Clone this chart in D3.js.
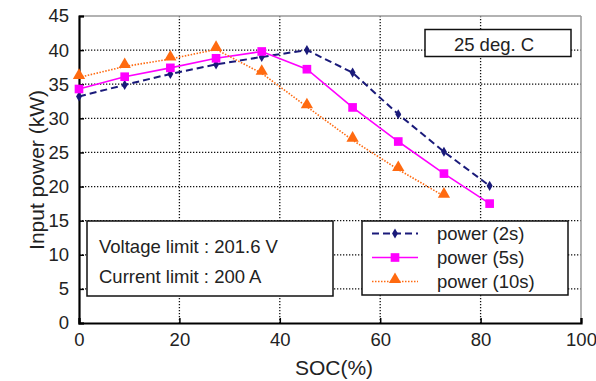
<!DOCTYPE html>
<html>
<head>
<meta charset="utf-8">
<script src="https://cdn.jsdelivr.net/npm/d3@7"></script>
<style>
  body { margin: 0; background: #fff; }
  text { font-family: "Liberation Sans", Arial, sans-serif; fill: #222; }
</style>
</head>
<body>
<script>

// chart data
var soc = [0, 9.1, 18.2, 27.3, 36.4, 45.4, 54.5, 63.6, 72.7, 81.8];
var power2s = [33.2, 34.9, 36.5, 37.9, 39.0, 40.0, 36.7, 30.6, 25.1, 20.1];
var power5s = [34.3, 36.1, 37.4, 38.8, 39.8, 37.2, 31.6, 26.6, 21.9, 17.5];
var power10s = [36.0, 37.6, 38.7, 40.1, 36.6, 31.7, 26.8, 22.5, 18.6];
var seriesNames = ["power (2s)", "power (5s)", "power (10s)"];
var xTicks = [0, 20, 40, 60, 80, 100];
var yTicks = [0, 5, 10, 15, 20, 25, 30, 35, 40, 45];
var noteLines = ["Voltage limit : 201.6 V", "Current limit : 200 A"];
var tempLabel = "25 deg. C";

window.onload = drawChart

function drawChart()
{
  var width = 596, height = 381;
  var left = 79, right = 581, top = 16, bottom = 323;

  var svg = d3.select("body").append("svg")
              .attr("width", width)
              .attr("height", height);

  var x = d3.scaleLinear().domain([0, 100]).range([left, right]);
  var y = d3.scaleLinear().domain([0, 45]).range([bottom, top]);

  // dotted grid
  svg.append("g").selectAll("line").data(yTicks.slice(1, -1)).join("line")
     .attr("x1", left).attr("x2", right)
     .attr("y1", d => y(d)).attr("y2", d => y(d))
     .attr("stroke", "#111").attr("stroke-width", 1.3)
     .attr("stroke-dasharray", "1.3,1.7");
  svg.append("g").selectAll("line").data(xTicks.slice(1, -1)).join("line")
     .attr("x1", d => x(d)).attr("x2", d => x(d))
     .attr("y1", top).attr("y2", bottom)
     .attr("stroke", "#111").attr("stroke-width", 1.3)
     .attr("stroke-dasharray", "1.3,1.7");

  // frame: gray top/right, black axes
  svg.append("line").attr("x1", left).attr("x2", right).attr("y1", top).attr("y2", top)
     .attr("stroke", "#999").attr("stroke-width", 1.5);
  svg.append("line").attr("x1", right).attr("x2", right).attr("y1", top).attr("y2", bottom)
     .attr("stroke", "#999").attr("stroke-width", 1.5);

  var xAxis = svg.append("g").attr("transform", "translate(0," + bottom + ")")
                 .call(d3.axisBottom(x).tickValues(xTicks).tickSize(-5).tickPadding(10));
  var yAxis = svg.append("g").attr("transform", "translate(" + left + ",0)")
                 .call(d3.axisLeft(y).tickValues(yTicks).tickSize(-5).tickPadding(10));
  [xAxis, yAxis].forEach(function(ax)
  {
    ax.select(".domain").attr("stroke", "#000").attr("stroke-width", 2.2);
    ax.selectAll(".tick line").attr("stroke", "#000").attr("stroke-width", 1.5);
    ax.selectAll(".tick text").attr("font-size", 18.5).attr("fill", "#222")
      .attr("font-family", "Liberation Sans, Arial, sans-serif");
  });
  xAxis.selectAll(".tick text").attr("dy", "0.72em");

  // axis titles
  svg.append("text").attr("x", 334).attr("y", 375)
     .attr("text-anchor", "middle").attr("font-size", 21).text("SOC(%)");
  svg.append("text").attr("transform", "translate(44,170) rotate(-90)")
     .attr("text-anchor", "middle").attr("font-size", 21).text("Input power (kW)");

  // series
  var series = [
    { name: seriesNames[0], values: power2s, color: "#1a1a7a", dash: "7,4", width: 2, shape: "diamond" },
    { name: seriesNames[1], values: power5s, color: "#ff00ff", dash: null, width: 1.6, shape: "square" },
    { name: seriesNames[2], values: power10s, color: "#ff6a10", dash: "1.5,1.5", width: 1.6, shape: "triangle" }
  ];

  var line = d3.line().x(d => x(d[0])).y(d => y(d[1]));

  function symbolFor(shape)
  {
    if (shape === "diamond") return d3.symbol().type(d3.symbolDiamond).size(30)();
    if (shape === "square") return d3.symbol().type(d3.symbolSquare).size(75)();
    return d3.symbol().type(d3.symbolTriangle).size(65)();
  }

  series.forEach(function(s)
  {
    var pts = s.values.map(function(v, i) { return [soc[i], v]; });
    svg.append("path").datum(pts)
       .attr("d", line).attr("fill", "none")
       .attr("stroke", s.color).attr("stroke-width", s.width)
       .attr("stroke-dasharray", s.dash);
    svg.append("g").selectAll("path").data(pts).join("path")
       .attr("transform", d => "translate(" + x(d[0]) + "," + (y(d[1]) - (s.shape === "triangle" ? 2 : 0)) + ")")
       .attr("d", symbolFor(s.shape))
       .attr("fill", s.color);
  });

  // temperature box
  svg.append("rect").attr("x", 425).attr("y", 29.5).attr("width", 146).attr("height", 27)
     .attr("fill", "#fff").attr("stroke", "#111").attr("stroke-width", 1.5);
  svg.append("text").attr("x", 494).attr("y", 50.5).attr("text-anchor", "middle")
     .attr("font-size", 18.5).text(tempLabel);

  // limits box
  svg.append("rect").attr("x", 87).attr("y", 221).attr("width", 246).attr("height", 75)
     .attr("fill", "#fff").attr("stroke", "#111").attr("stroke-width", 1.5);
  svg.append("g").selectAll("text").data(noteLines).join("text")
     .attr("x", 99).attr("y", (d, i) => 252.5 + i * 30)
     .attr("font-size", 18.5).text(d => d);

  // legend
  svg.append("rect").attr("x", 362).attr("y", 221).attr("width", 206).attr("height", 74)
     .attr("fill", "#fff").attr("stroke", "#111").attr("stroke-width", 1.5);
  var legend = svg.append("g").selectAll("g").data(series).join("g")
                  .attr("transform", (d, i) => "translate(0," + (233.5 + i * 24) + ")");
  legend.append("line").attr("x1", 372).attr("x2", 418)
        .attr("stroke", d => d.color).attr("stroke-width", d => d.width)
        .attr("stroke-dasharray", d => d.dash);
  legend.append("path")
        .attr("transform", d => "translate(395," + (d.shape === "triangle" ? -2 : 0) + ")")
        .attr("d", d => symbolFor(d.shape)).attr("fill", d => d.color);
  legend.append("text").attr("x", 437).attr("y", 6)
        .attr("font-size", 18.5).text(d => d.name);
}
</script>
</body>
</html>
